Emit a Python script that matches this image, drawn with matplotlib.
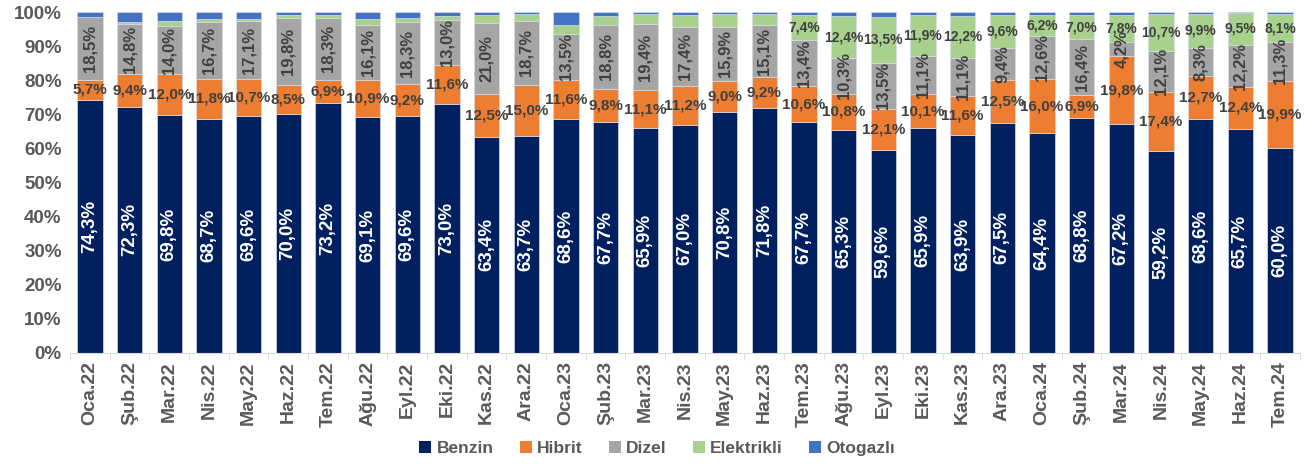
"""
Turkey car sales by fuel type, monthly share (100% stacked bars).
"""
import matplotlib
matplotlib.use("Agg")
import matplotlib.pyplot as plt
import numpy as np
from matplotlib.patches import Patch
from matplotlib.ticker import FixedLocator, PercentFormatter

plt.rcParams["font.family"] = ["Liberation Sans", "DejaVu Sans"]
plt.rcParams["font.weight"] = "bold"

# ---------------------------------------------------------------------
# Data (percent share)
# ---------------------------------------------------------------------
months = [
    "Oca.22", "Şub.22", "Mar.22", "Nis.22", "May.22", "Haz.22", "Tem.22",
    "Ağu.22", "Eyl.22", "Eki.22", "Kas.22", "Ara.22", "Oca.23", "Şub.23",
    "Mar.23", "Nis.23", "May.23", "Haz.23", "Tem.23", "Ağu.23", "Eyl.23",
    "Eki.23", "Kas.23", "Ara.23", "Oca.24", "Şub.24", "Mar.24", "Nis.24",
    "May.24", "Haz.24", "Tem.24",
]
benzin = [74.3, 72.3, 69.8, 68.7, 69.6, 70.0, 73.2, 69.1, 69.6, 73.0, 63.4,
          63.7, 68.6, 67.7, 65.9, 67.0, 70.8, 71.8, 67.7, 65.3, 59.6, 65.9,
          63.9, 67.5, 64.4, 68.8, 67.2, 59.2, 68.6, 65.7, 60.0]
hibrit = [5.7, 9.4, 12.0, 11.8, 10.7, 8.5, 6.9, 10.9, 9.2, 11.6, 12.5, 15.0,
          11.6, 9.8, 11.1, 11.2, 9.0, 9.2, 10.6, 10.8, 12.1, 10.1, 11.6, 12.5,
          16.0, 6.9, 19.8, 17.4, 12.7, 12.4, 19.9]
dizel = [18.5, 14.8, 14.0, 16.7, 17.1, 19.8, 18.3, 16.1, 18.3, 13.0, 21.0,
         18.7, 13.5, 18.8, 19.4, 17.4, 15.9, 15.1, 13.4, 10.3, 13.5, 11.1,
         11.1, 9.4, 12.6, 16.4, 4.2, 12.1, 8.3, 12.2, 11.3]
elektrikli = [0.2, 0.7, 1.5, 0.8, 0.6, 0.8, 0.8, 1.8, 1.2, 1.3, 2.3, 1.9,
              2.6, 2.6, 2.9, 3.6, 3.6, 3.4, 7.4, 12.4, 13.5, 11.9, 12.2, 9.6,
              6.2, 7.0, 7.8, 10.7, 9.9, 9.5, 8.1]
otogazli = [1.3, 2.8, 2.7, 2.0, 2.0, 0.9, 0.8, 2.1, 1.7, 1.1, 0.8, 0.7, 3.7,
            1.1, 0.7, 0.8, 0.7, 0.5, 0.9, 1.2, 1.3, 1.0, 1.2, 1.0, 0.8, 0.9,
            1.0, 0.6, 0.5, 0.2, 0.7]
# Elektrikli values only get a label from Tem.23 on
elektrikli_labeled_from = "Tem.23"

series = [
    ("Benzin", benzin, "#002060"),
    ("Hibrit", hibrit, "#ED7D31"),
    ("Dizel", dizel, "#A5A5A5"),
    ("Elektrikli", elektrikli, "#A9D18E"),
    ("Otogazlı", otogazli, "#4472C4"),
]

TEXT = "#404040"


def pct(v):
    return f"{v:.1f}".replace(".", ",") + "%"


fig = plt.figure(figsize=(13.09, 4.65), dpi=100)
ax = fig.add_axes([0.0535, 0.241, 0.9395, 0.733])

x = np.arange(len(months))
bottom = np.zeros(len(months))
for name, vals, color in series:
    vals = np.array(vals)
    ax.bar(x, vals, 0.64, bottom=bottom, color=color,
           edgecolor="#d6dce5", linewidth=0.5, label=name)
    bottom = bottom + vals

# ---------------------------------------------------------------------
# Data labels
# ---------------------------------------------------------------------
start_el = months.index(elektrikli_labeled_from)
for i in range(len(months)):
    b0 = 0.0
    ax.text(i, benzin[i] / 2, pct(benzin[i]), rotation=90, ha="center",
            va="center", color="white", fontsize=13.5, fontweight="bold")
    b0 += benzin[i]
    ax.text(i, b0 + hibrit[i] / 2, pct(hibrit[i]), ha="center", va="center",
            color=TEXT, fontsize=11, fontweight="bold")
    b0 += hibrit[i]
    ax.text(i, b0 + dizel[i] / 2, pct(dizel[i]), rotation=90, ha="center",
            va="center", color=TEXT, fontsize=12, fontweight="bold")
    b0 += dizel[i]
    if i >= start_el:
        ax.text(i, b0 + elektrikli[i] / 2, pct(elektrikli[i]), ha="center",
                va="center", color=TEXT, fontsize=10, fontweight="bold")

# ---------------------------------------------------------------------
# Axes styling
# ---------------------------------------------------------------------
ax.set_xlim(-0.5, len(months) - 0.5)
ax.set_ylim(0, 100)
ax.yaxis.set_major_locator(FixedLocator(np.arange(0, 101, 10)))
ax.yaxis.set_major_formatter(PercentFormatter(decimals=0))
ax.set_xticks(x)
ax.set_xticklabels(months, rotation=90)
ax.set_xticks(np.arange(-0.5, len(months), 1), minor=True)
ax.tick_params(axis="x", which="major", length=0, pad=6, labelsize=14,
               labelcolor="#595959")
ax.tick_params(axis="x", which="minor", length=5, color="#d9d9d9")
ax.tick_params(axis="y", length=0, labelsize=13.5, labelcolor="#595959", pad=6)
for lab in ax.get_xticklabels() + ax.get_yticklabels():
    lab.set_fontweight("bold")
for side in ["top", "right", "left"]:
    ax.spines[side].set_visible(False)
ax.spines["bottom"].set_color("#d9d9d9")

handles = [Patch(facecolor=c, label=n) for n, _, c in series]
leg = fig.legend(handles=handles, loc="center", bbox_to_anchor=(0.502, 0.035),
                 ncol=5, frameon=False, fontsize=12.5, handlelength=0.7,
                 handleheight=0.7, handletextpad=0.3, columnspacing=1.5)
for t in leg.get_texts():
    t.set_color("#595959")
    t.set_fontweight("bold")

fig.savefig("out.png", dpi=100)
